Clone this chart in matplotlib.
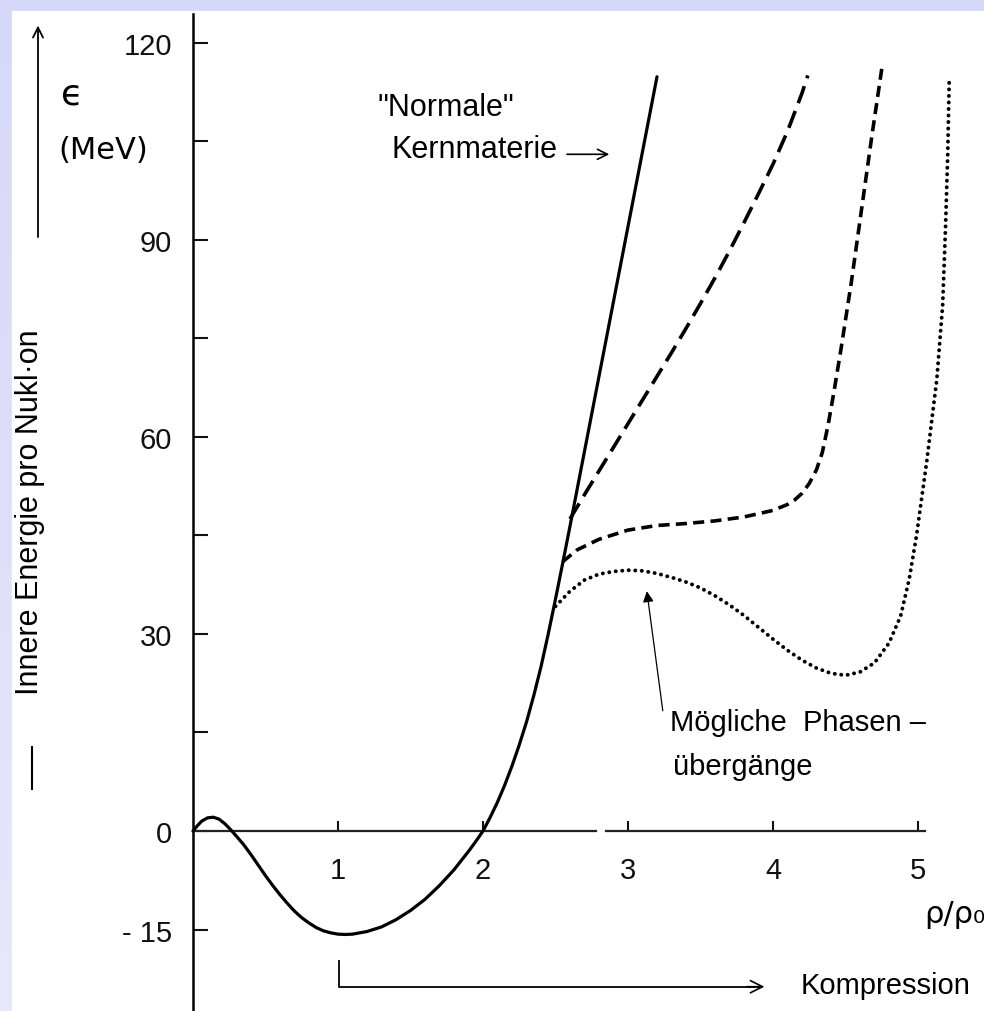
import matplotlib
matplotlib.use("Agg")
import matplotlib.pyplot as plt
import numpy as np
from matplotlib.patches import Rectangle

plt.rcParams['font.family'] = ['Liberation Sans', 'DejaVu Sans']
plt.rcParams['lines.scale_dashes'] = False

# Werte (rho/rho0, MeV)
rho_normal = [0, 0.03, 0.06, 0.1, 0.14, 0.18, 0.22, 0.26, 0.3, 0.35, 0.4, 0.45, 0.5, 0.55,
              0.6, 0.65, 0.7, 0.75, 0.8, 0.85, 0.9, 0.95, 1.0, 1.05, 1.1, 1.2, 1.3, 1.4,
              1.5, 1.6, 1.7, 1.8, 1.85, 1.9, 1.95, 2.0, 2.05, 2.1, 2.15, 2.2, 2.25, 2.3,
              2.35, 2.4, 2.45, 2.5, 2.55, 2.6, 2.7, 2.8, 2.9, 3.0, 3.1, 3.2]
e_normal = [0, 0.8, 1.5, 2.0, 2.1, 1.8, 1.1, 0.2, -0.8, -2.1, -3.6, -5.2, -6.8, -8.3,
            -9.7, -11.0, -12.2, -13.2, -14.0, -14.7, -15.2, -15.5, -15.7, -15.75, -15.7, -15.3, -14.6, -13.5,
            -12.1, -10.4, -8.3, -5.9, -4.5, -3.1, -1.6, 0, 2.1, 4.4, 7.0, 9.9, 13.1, 16.6,
            20.6, 25.0, 30.0, 35.3, 40.8, 46.4, 57.8, 69.2, 80.6, 92.0, 103.4, 114.8]

rho_lang = [2.6, 2.7, 2.8, 2.9, 3.0, 3.1, 3.2, 3.3, 3.4, 3.5, 3.6, 3.7, 3.8, 3.9,
            4.0, 4.1, 4.2, 4.24]
e_lang = [47.5, 51.2, 54.8, 58.4, 62.0, 65.6, 69.2, 72.8, 76.5, 80.3, 84.2, 88.3, 92.6, 97.0,
          101.5, 106.5, 112.3, 115.0]

rho_mittel = [2.55, 2.65, 2.8, 3.0, 3.2, 3.4, 3.6, 3.8, 4.0, 4.1, 4.15, 4.2, 4.25, 4.3,
              4.34, 4.38, 4.42, 4.47, 4.54, 4.61, 4.68, 4.75]
e_mittel = [41.0, 42.8, 44.4, 45.8, 46.5, 46.8, 47.2, 47.8, 48.8, 49.7, 50.4, 51.4, 52.9, 55.0,
            57.6, 61.8, 66.8, 73.5, 83.5, 94.5, 105.5, 116.0]

rho_punkt = [2.5, 2.6, 2.7, 2.8, 2.9, 3.0, 3.1, 3.2, 3.3, 3.4, 3.5, 3.6, 3.7, 3.8, 3.9,
             4.0, 4.1, 4.2, 4.3, 4.4, 4.5, 4.6, 4.7, 4.8, 4.88, 4.94, 4.99, 5.06, 5.13,
             5.17, 5.19, 5.205, 5.215]
e_punkt = [34.2, 36.5, 38.2, 39.1, 39.5, 39.7, 39.6, 39.2, 38.6, 37.9, 37.0, 35.8, 34.4, 32.8, 31.0,
           29.2, 27.5, 26.0, 24.8, 24.0, 23.7, 24.2, 25.6, 28.6, 32.7, 38.4, 45.0, 56.2, 68.8,
           80.0, 92.0, 103.0, 114.0]

x_ticks = [1, 2, 3, 4, 5]
y_major = [-15, 0, 30, 60, 90, 120]
y_major_labels = ['- 15', '0', '30', '60', '90', '120']
y_minor = [15, 45, 75, 105]

fig = plt.figure(figsize=(9.84, 10.12), dpi=100)
fig.patch.set_facecolor('#d9dbf8')

# Hintergrund: lila Rand oben und links
bg = fig.add_axes([0, 0, 1, 1], zorder=0)
grad = np.linspace(0, 1, 256).reshape(-1, 1)
bg.imshow(grad, aspect='auto', extent=[0, 1, 0, 1],
          cmap=matplotlib.colors.LinearSegmentedColormap.from_list('g', ['#d6d8f8', '#e6e8fb']))
bg.add_patch(Rectangle((12 / 984, 0), 1, 1 - 12 / 1012, color='white', zorder=2))
bg.set_xlim(0, 1)
bg.set_ylim(0, 1)
bg.axis('off')

ax = fig.add_axes([0, 0, 1, 1], zorder=1)
ax.patch.set_alpha(0)
ax.set_xlim(-193 / 145, (984 - 193) / 145)
ax.set_ylim((832 - 1012) / 6.57, 832 / 6.57)

for s in ['top', 'right']:
    ax.spines[s].set_visible(False)
ax.spines['left'].set_position(('data', 0))
ax.spines['left'].set_bounds(-27.4, 124.4)
ax.spines['left'].set_linewidth(1.8)
ax.spines['bottom'].set_position(('data', 0))
ax.spines['bottom'].set_color('none')

# x-Achse mit kleiner Lücke
ax.plot([0, 2.78], [0, 0], color='#222222', lw=1.6, zorder=2)
ax.plot([2.85, 5.05], [0, 0], color='#222222', lw=1.6, zorder=2)

ax.set_xticks(x_ticks)
ax.set_xticklabels([str(t) for t in x_ticks])
ax.set_yticks(y_major)
ax.set_yticklabels(y_major_labels)
ax.set_yticks(y_minor, minor=True)
ax.tick_params(axis='y', which='both', direction='in', length=11, width=1.5, pad=15,
               labelsize=21, colors='#111111')
ax.tick_params(axis='x', which='both', direction='in', length=7, width=1.5, pad=18,
               labelsize=21, colors='#111111')

ax.plot(rho_normal, e_normal, color='black', lw=2.3, solid_capstyle='round',
        solid_joinstyle='round', zorder=3)
ax.plot(rho_lang, e_lang, color='black', lw=2.6, dashes=(13, 6), zorder=3)
ax.plot(rho_mittel, e_mittel, color='black', lw=2.6, dashes=(8, 4.5), zorder=3)
ax.plot(rho_punkt, e_punkt, color='black', lw=2.8, dashes=(0.1, 4.6),
        dash_capstyle='round', zorder=3)

# Beschriftungen
ax.text(1.27, 110.2, '"Normale"', fontsize=22, va='center', ha='left')
ax.text(1.37, 103.8, 'Kernmaterie', fontsize=22, va='center', ha='left')
ax.annotate('', xy=(2.89, 103.0), xytext=(2.56, 103.0),
            arrowprops=dict(arrowstyle='->', lw=1.2, color='black', mutation_scale=18))

ax.text(3.29, 16.6, 'Mögliche  Phasen –', fontsize=21, va='center', ha='left')
ax.text(3.31, 9.9, 'übergänge', fontsize=21, va='center', ha='left')
ax.annotate('', xy=(3.13, 36.5), xytext=(3.24, 18.3),
            arrowprops=dict(arrowstyle='-|>', lw=0.9, color='black', mutation_scale=16,
                            shrinkA=0, shrinkB=0))

ax.plot([1.01, 1.01, 3.9], [-19.8, -23.7, -23.7], color='black', lw=1.3)
ax.annotate('', xy=(3.96, -23.7), xytext=(3.8, -23.7),
            arrowprops=dict(arrowstyle='->', lw=1.2, color='black', mutation_scale=22))
ax.text(4.19, -23.4, 'Kompression', fontsize=21, va='center', ha='left')

ax.text(5.255, -12.6, 'ρ/ρ₀', fontsize=22, va='center', ha='center', family='DejaVu Sans')

ax.text(-1.124, 48.7, 'Innere Energie pro Nukl·on', fontsize=22, rotation=90,
        va='center', ha='center')
ax.annotate('', xy=(-1.069, 122.6), xytext=(-1.069, 90.4),
            arrowprops=dict(arrowstyle='->', lw=1.3, color='black', mutation_scale=18,
                            shrinkA=0, shrinkB=0))
ax.plot([-1.11, -1.11], [6.4, 12.8], color='black', lw=1.5)
ax.text(-0.834, 112.2, 'ϵ', fontsize=26, va='center', ha='center', family='DejaVu Sans')
ax.text(-0.62, 103.8, '(MeV)', fontsize=22, va='center', ha='center', family='DejaVu Sans')

fig.savefig('out.png', dpi=100)
